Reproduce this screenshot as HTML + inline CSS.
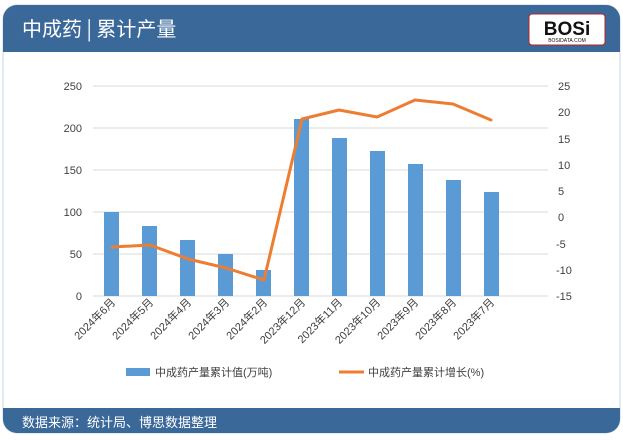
<!DOCTYPE html>
<html><head><meta charset="utf-8"><style>
html,body{margin:0;padding:0;background:#fff;}
body{width:623px;height:435px;overflow:hidden;font-family:"Liberation Sans","Noto Sans CJK SC",sans-serif;}
</style></head><body>
<svg width="623" height="435" viewBox="0 0 623 435" xmlns="http://www.w3.org/2000/svg" font-family="Liberation Sans, Noto Sans CJK SC, sans-serif">
<rect x="3" y="5" width="617" height="428" rx="14" fill="#fff" stroke="#c9d6e3"/>
<path d="M3 19 a14 14 0 0 1 14 -14 H606 a14 14 0 0 1 14 14 V52 H3Z" fill="#3a6899"/>
<path d="M3 408 H620 V419 a14 14 0 0 1 -14 14 H17 a14 14 0 0 1 -14 -14Z" fill="#3a6899"/>
<text x="22" y="36" font-size="20" fill="#fff" font-family="Noto Sans CJK SC, sans-serif">中成药 | 累计产量</text>
<text x="22" y="427" font-size="13" fill="#fff" font-family="Noto Sans CJK SC, sans-serif">数据来源：统计局、博思数据整理</text>
<rect x="529" y="14" width="76" height="31" rx="3" fill="#fff" stroke="#b22" stroke-width="1"/>
<text x="567" y="35" font-size="19" font-weight="bold" text-anchor="middle" fill="#111">BOSi</text>
<text x="567" y="42" font-size="5" text-anchor="middle" fill="#111">BOSIDATA.COM</text>
<g stroke="#d9d9d9" stroke-width="1">
<line x1="93" y1="86" x2="548" y2="86"/><line x1="93" y1="128" x2="548" y2="128"/>
<line x1="93" y1="170" x2="548" y2="170"/><line x1="93" y1="212" x2="548" y2="212"/>
<line x1="93" y1="254" x2="548" y2="254"/><line x1="93" y1="296" x2="548" y2="296"/>
</g>
<g font-size="11" fill="#404040" text-anchor="end">
<text x="82" y="90">250</text><text x="82" y="132">200</text><text x="82" y="174">150</text>
<text x="82" y="216">100</text><text x="82" y="258">50</text><text x="82" y="300">0</text>
</g>
<g font-size="11" fill="#404040" text-anchor="start">
<text x="558" y="90">25</text><text x="558" y="116">20</text><text x="558" y="143">15</text>
<text x="558" y="169">10</text><text x="558" y="195">5</text><text x="558" y="221">0</text>
<text x="556" y="248">-5</text><text x="556" y="274">-10</text><text x="556" y="300">-15</text>
</g>
<g fill="#5b9bd5">
<rect x="104" y="212" width="15" height="84"/>
<rect x="142" y="226" width="15" height="70"/>
<rect x="180" y="240" width="15" height="56"/>
<rect x="218" y="254" width="15" height="42"/>
<rect x="256" y="270" width="15" height="26"/>
<rect x="294" y="119" width="15" height="177"/>
<rect x="332" y="138" width="15" height="158"/>
<rect x="370" y="151" width="15" height="145"/>
<rect x="408" y="164" width="15" height="132"/>
<rect x="446" y="180" width="15" height="116"/>
<rect x="484" y="192" width="15" height="104"/>
</g>
<polyline fill="none" stroke="#ed7d31" stroke-width="3" stroke-linejoin="round" stroke-linecap="round"
points="112,247 150,245 188,259 226,268 264,280 302,119 339,110 377,117 415,100 453,104 491,120"/>
<g font-size="11" fill="#404040" text-anchor="end">
<text transform="translate(116,303) rotate(-45)">2024年6月</text>
<text transform="translate(154,303) rotate(-45)">2024年5月</text>
<text transform="translate(192,303) rotate(-45)">2024年4月</text>
<text transform="translate(230,303) rotate(-45)">2024年3月</text>
<text transform="translate(268,303) rotate(-45)">2024年2月</text>
<text transform="translate(306,303) rotate(-45)">2023年12月</text>
<text transform="translate(343,303) rotate(-45)">2023年11月</text>
<text transform="translate(381,303) rotate(-45)">2023年10月</text>
<text transform="translate(419,303) rotate(-45)">2023年9月</text>
<text transform="translate(457,303) rotate(-45)">2023年8月</text>
<text transform="translate(495,303) rotate(-45)">2023年7月</text>
</g>
<rect x="126" y="368" width="24" height="8" fill="#5b9bd5"/>
<text x="155" y="376" font-size="11" fill="#404040">中成药产量累计值(万吨)</text>
<line x1="339" y1="372" x2="364" y2="372" stroke="#ed7d31" stroke-width="3"/>
<text x="368" y="376" font-size="11" fill="#404040">中成药产量累计增长(%)</text>
</svg>
</body></html>
